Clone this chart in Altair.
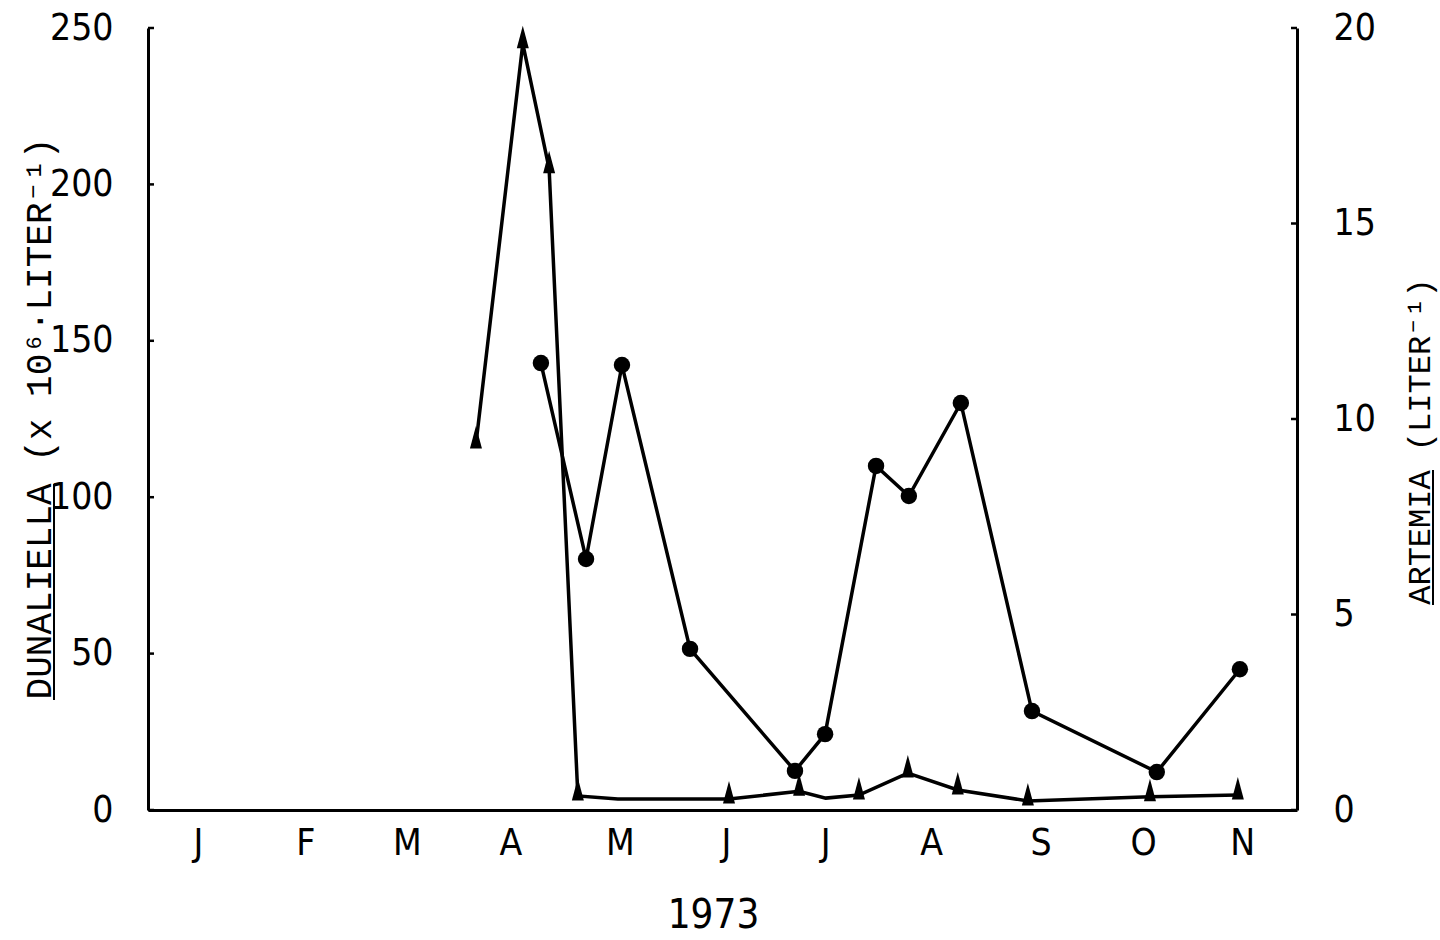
import altair as alt
import pandas as pd

# ---- data (x in day-of-year 1973) ----
dun_day = [95.9, 109.6, 117.3, 125.7, 137.4, 169.9, 190.4, 198.2, 207.9, 222.2, 236.8, 257.3, 293.0, 318.7]
dun_val = [117, 245, 205, 4.5, 3.5, 3.5, 6.0, 3.8, 4.8, 11.8, 6.4, 2.9, 4.2, 4.8]
dun_marker = [True, True, True, True, False, True, True, False, True, True, True, True, True, True]

art_day = [114.9, 128.1, 138.6, 158.5, 189.2, 198.0, 212.9, 222.5, 237.7, 258.5, 295.0, 319.3]
art_val = [11.43, 6.42, 11.38, 4.12, 1.0, 1.94, 8.8, 8.03, 10.41, 2.53, 0.97, 3.6]

months = ["J", "F", "M", "A", "M", "J", "J", "A", "S", "O", "N"]
month_pos = [14.6, 46, 75.7, 106, 138, 169, 198, 229, 261, 291, 320]

left_ticks = [0, 50, 100, 150, 200, 250]
right_ticks = [0, 5, 10, 15, 20]

dun = pd.DataFrame({"day": dun_day, "val": dun_val, "marker": dun_marker})
art = pd.DataFrame({"day": art_day, "val": art_val})
lt = pd.DataFrame({"val": left_ticks})
rt = pd.DataFrame({"val": right_ticks})

NARROW = "'Liberation Sans Narrow', 'DejaVu Sans Condensed', 'Liberation Sans', sans-serif"
MONO = "'Liberation Mono', 'DejaVu Sans Mono', monospace"

label_expr = "[" + ",".join("'%s'" % m for m in months) + "][indexof([" + ",".join(str(p) for p in month_pos) + "], datum.value)]"

x_enc = alt.X(
    "day:Q",
    scale=alt.Scale(domain=[0, 336], nice=False, zero=False),
    axis=alt.Axis(
        values=month_pos, labelExpr=label_expr, ticks=False, grid=False,
        labelPadding=15, labelAngle=0, labelFont=NARROW, labelFontSize=37,
        labelColor="black", domainColor="black", domainWidth=3,
        title="1973", titleFont=NARROW, titleFontSize=40, titleFontWeight="normal",
        titleColor="black", titleX=565, titleY=117, titleBaseline="alphabetic",
        titleAlign="center",
    ),
)

y_left_scale = alt.Scale(domain=[0, 250], nice=False)
y_right_scale = alt.Scale(domain=[0, 20], nice=False)

y_left = alt.Y(
    "val:Q",
    scale=y_left_scale,
    axis=alt.Axis(
        orient="left", values=left_ticks, ticks=False, grid=False, labelPadding=35,
        labelFont=NARROW, labelFontSize=37, labelColor="black",
        domainColor="black", domainWidth=3,
        title="DUNALIELLA (x 10⁶·LITER⁻¹)", titleFont=MONO, titleFontSize=36,
        titleFontWeight="normal", titleColor="black", titleAngle=270,
        titleX=-98, titleY=390, titleAlign="center", titleBaseline="alphabetic",
    ),
)

y_right = alt.Y(
    "val:Q",
    scale=y_right_scale,
    axis=alt.Axis(
        orient="right", values=right_ticks, ticks=False, grid=False, labelPadding=36,
        labelFont=NARROW, labelFontSize=37, labelColor="black",
        domainColor="black", domainWidth=3,
        title="ARTEMIA (LITER⁻¹)", titleFont=MONO, titleFontSize=32,
        titleFontWeight="normal", titleColor="black", titleAngle=270,
        titleX=132, titleY=413, titleAlign="center", titleBaseline="alphabetic",
    ),
)

tri_shape = "M0,-1.2L0.4,0.3L-0.4,0.3Z"

dun_line = alt.Chart(dun).mark_line(color="black", strokeWidth=3.5).encode(x=x_enc, y=y_left, order="day:Q")
dun_pts = alt.Chart(dun).transform_filter("datum.marker").mark_point(
    shape=tri_shape, filled=True, color="black", size=900, opacity=1
).encode(x=x_enc, y=y_left)

art_line = alt.Chart(art).mark_line(color="black", strokeWidth=3.5).encode(x=x_enc, y=y_right, order="day:Q")
art_pts = alt.Chart(art).mark_point(shape="circle", filled=True, color="black", size=270, opacity=1).encode(x=x_enc, y=y_right)

# small inward ticks on both value axes
lt_rule = alt.Chart(lt).mark_rule(color="black", strokeWidth=2.5).encode(
    y=y_left, x=alt.value(0), x2=alt.value(6)
)
rt_rule = alt.Chart(rt).mark_rule(color="black", strokeWidth=2.5).encode(
    y=y_right, x=alt.value(1143), x2=alt.value(1149)
)

ul = pd.DataFrame({"k": [0]})
underline_left = alt.Chart(ul).mark_rule(color="black", strokeWidth=2).encode(
    x=alt.value(-94), y=alt.value(456), y2=alt.value(672)
)
underline_right = alt.Chart(ul).mark_rule(color="black", strokeWidth=2).encode(
    x=alt.value(1285), y=alt.value(442), y2=alt.value(577)
)

chart = alt.layer(
    alt.layer(dun_line, dun_pts, lt_rule),
    alt.layer(art_line, art_pts, rt_rule),
    underline_left,
    underline_right,
).resolve_scale(y="independent").properties(
    width=1149, height=782,
    padding={"left": 148, "top": 28, "right": 143, "bottom": 130},
    autosize=alt.AutoSizeParams(type="none"),
    background="white",
).configure_view(stroke=None)

chart.save("out.html", embed_options={"renderer": "svg", "actions": False})
